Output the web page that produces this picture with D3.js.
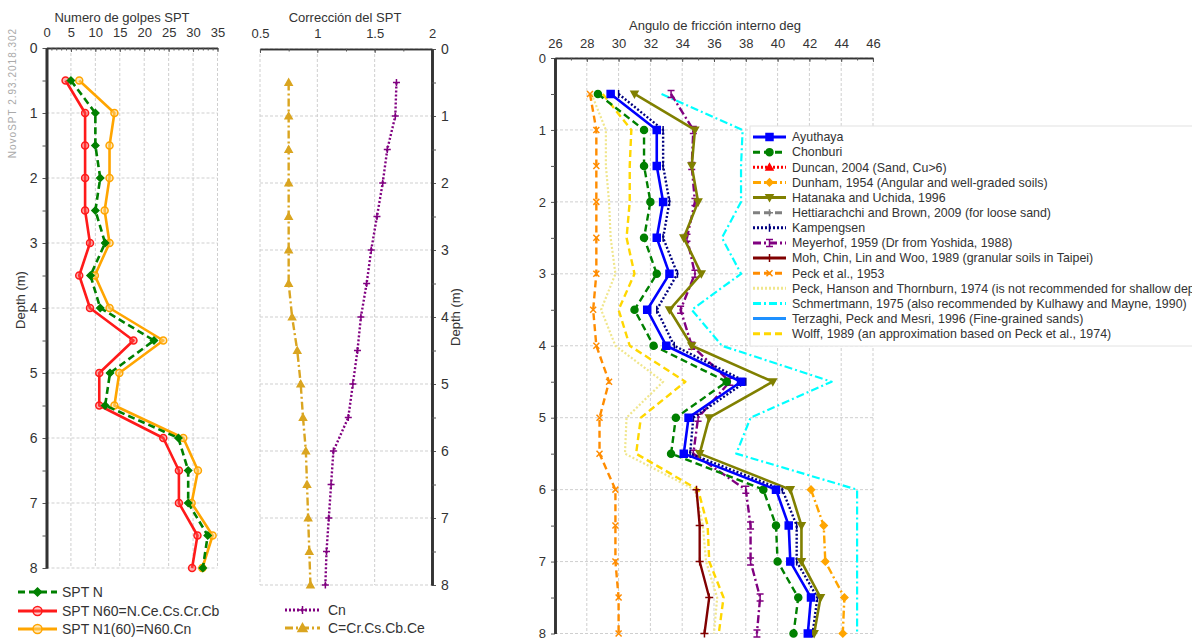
<!DOCTYPE html>
<html>
<head>
<meta charset="utf-8">
<script src="https://cdn.jsdelivr.net/npm/d3@7"></script>
<style>
  body { margin: 0; background: #fff; }
  svg { font-family: "Liberation Sans", Arial, sans-serif; }
</style>
</head>
<body>
<script>
// sizes
var w = 1192;
var h = 639;

// depths (m)
var depths = [0.5, 1, 1.5, 2, 2.5, 3, 3.5, 4, 4.5, 5, 5.5, 6, 6.5, 7, 7.5, 8];
var depthsDeep = [6, 6.5, 7, 7.5, 8];
var depthTicks = [0, 1, 2, 3, 4, 5, 6, 7, 8];

// panel 1: SPT blow counts
var sptTicks = [0, 5, 10, 15, 20, 25, 30, 35];
var sptN = [5, 10, 10, 11, 10, 12, 9, 11, 22, 13, 12, 27, 29, 29, 33, 32];
var sptN60 = [3.9, 7.9, 7.9, 7.9, 7.9, 8.9, 6.7, 8.9, 17.8, 10.8, 10.8, 23.9, 27.1, 27.1, 30.9, 29.8];
var sptN160 = [6.7, 13.9, 12.9, 12.9, 11.9, 12.9, 9.9, 12.9, 23.9, 14.9, 13.9, 28, 31, 29.7, 34, 31.9];

// panel 2: corrections
var corrTicks = [0.5, 1, 1.5, 2];
var cn = [1.69, 1.68, 1.61, 1.57, 1.52, 1.47, 1.43, 1.38, 1.35, 1.31, 1.27, 1.14, 1.12, 1.10, 1.08, 1.07];
var cProd = [0.75, 0.75, 0.75, 0.75, 0.75, 0.75, 0.75, 0.78, 0.825, 0.855, 0.875, 0.90, 0.91, 0.92, 0.93, 0.94];

// panel 3: friction angle (deg)
var phiTicks = [26, 28, 30, 32, 34, 36, 38, 40, 42, 44, 46];
var ayuthaya = [29.5, 32.4, 32.4, 32.8, 32.4, 33.2, 31.8, 33.0, 37.7, 34.4, 34.1, 39.9, 40.7, 40.8, 42.1, 41.9];
var chonburi = [28.7, 31.6, 31.6, 32.0, 31.6, 32.4, 31.0, 32.2, 36.8, 33.6, 33.3, 39.1, 39.9, 40.0, 41.3, 41.0];
var duncan = [];
var dunham = [42.1, 42.9, 43.0, 44.2, 44.1];
var hatanaka = [31.0, 34.8, 34.6, 35.0, 34.1, 35.2, 33.2, 34.6, 39.7, 35.7, 35.1, 40.8, 41.5, 41.5, 42.7, 42.3];
var hettiarachchi = [];
var kampengsen = [30.0, 32.8, 32.8, 33.2, 32.8, 33.7, 32.4, 33.5, 38.0, 34.7, 34.5, 40.3, 41.2, 41.2, 42.5, 42.2];
var meyerhof = [33.3, 34.7, 34.6, 34.8, 34.3, 34.8, 33.9, 34.6, 37.0, 35.0, 34.7, 38.0, 38.3, 38.3, 38.9, 38.7];
var moh = [34.9, 35.1, 35.1, 35.7, 35.4];
var peck1953 = [28.2, 28.6, 28.6, 28.6, 28.6, 28.6, 28.4, 28.6, 29.4, 28.8, 28.8, 29.8, 29.8, 29.8, 30.0, 30.0];
var peckHT = [28.3, 29.2, 29.2, 29.4, 29.5, 29.8, 28.9, 29.8, 32.8, 30.5, 30.4, 34.8, 35.3, 35.5, 36.2, 36.0];
var schmertmann = [32.7, 37.8, 37.7, 37.7, 36.5, 37.7, 34.6, 36.5, 43.4, 38.3, 37.4, 45, 45, 45, 45, 45];
var terzaghi = [];
var wolff = [29.0, 30.8, 30.7, 30.7, 30.5, 31.0, 30.0, 30.7, 34.2, 31.4, 31.1, 35.0, 35.6, 35.7, 36.6, 36.3];

var DASH = "7,4", DOT = "2,2", DASHDOT = "8,3,2,3";

var svg = d3.select("body")
            .append("svg")
            .attr("width", w)
            .attr("height", h);

// marker shapes as path strings
function markerPath(type, s) {
    if (type == "diamond") return "M0," + (-s) + "L" + s + ",0L0," + s + "L" + (-s) + ",0Z";
    if (type == "square") return "M" + (-s) + "," + (-s) + "H" + s + "V" + s + "H" + (-s) + "Z";
    if (type == "tri") return "M0," + (-s) + "L" + s + "," + (s * 0.8) + "L" + (-s) + "," + (s * 0.8) + "Z";
    if (type == "tridown") return "M0," + s + "L" + s + "," + (-s * 0.8) + "L" + (-s) + "," + (-s * 0.8) + "Z";
    if (type == "plus") return "M" + (-s) + ",0H" + s + "M0," + (-s) + "V" + s;
    if (type == "x") return "M" + (-s) + "," + (-s) + "L" + s + "," + s + "M" + s + "," + (-s) + "L" + (-s) + "," + s;
    if (type == "vtick") return "M0," + (-s) + "V" + s;
    if (type == "ibeam") return "M" + (-s) + "," + (-s) + "H" + s + "M0," + (-s) + "V" + s + "M" + (-s) + "," + s + "H" + s;
    if (type == "circle") return d3.symbol(d3.symbolCircle, Math.PI * s * s)();
    return null;
}

function drawMarker(g, type, x, y, s, color, fill) {
    var p = markerPath(type, s);
    if (!p) return;
    var filled = (type == "diamond" || type == "square" || type == "tri" || type == "tridown" || type == "circle");
    g.append("path")
        .attr("d", p)
        .attr("transform", "translate(" + x + "," + y + ")")
        .attr("fill", filled ? (fill || color) : "none")
        .attr("stroke", color)
        .attr("stroke-width", 1.5);
}

// grid + axes of one panel
function frame(x, y, xTicks, xMinor, yAxisSide, xPad, yFont) {
    var g = svg.append("g");
    var x0 = x.range()[0], x1 = x.range()[1];
    var y0 = y.range()[0], y1 = y.range()[1];

    g.selectAll(".vg").data(xTicks).enter().append("line")
        .attr("x1", function(d) { return x(d); })
        .attr("x2", function(d) { return x(d); })
        .attr("y1", y0).attr("y2", y1)
        .attr("stroke", "#cfcfcf").attr("stroke-dasharray", "3,2");

    g.selectAll(".hg").data(depthTicks).enter().append("line")
        .attr("x1", x0).attr("x2", x1)
        .attr("y1", function(d) { return y(d); })
        .attr("y2", function(d) { return y(d); })
        .attr("stroke", "#cfcfcf").attr("stroke-dasharray", "3,2");

    // top axis
    var top = g.append("g").attr("transform", "translate(0," + y0 + ")");
    top.call(d3.axisTop(x).tickValues(xTicks).tickSize(-4).tickSizeOuter(0).tickPadding(xPad).tickFormat(d3.format("~g")));
    top.append("g").call(d3.axisTop(x).tickValues(xMinor).tickSize(-2.5).tickSizeOuter(0).tickFormat(""));
    top.selectAll("text").attr("font-size", "13px").attr("fill", "#333").attr("font-family", null);
    top.selectAll("path.domain").attr("stroke", "#333").attr("stroke-width", 1.6);
    top.selectAll("line").attr("stroke", "#555");

    // depth axis
    var ax = yAxisSide == "left" ? d3.axisLeft(y) : d3.axisRight(y);
    var axMinor = yAxisSide == "left" ? d3.axisLeft(y) : d3.axisRight(y);
    var side = g.append("g").attr("transform", "translate(" + (yAxisSide == "left" ? x0 : x1) + ",0)");
    side.call(ax.tickValues(depthTicks).tickSize(4).tickSizeOuter(0).tickPadding(5).tickFormat(d3.format("d")));
    side.append("g").call(axMinor.tickValues(d3.range(0.5, 8, 1)).tickSize(4).tickSizeOuter(0).tickFormat(""));
    side.selectAll("text").attr("font-size", yFont).attr("fill", "#333").attr("font-family", null);
    side.selectAll("path.domain").attr("stroke", "#333").attr("stroke-width", 2.6);
    side.selectAll("line").attr("stroke", "#555");
    return g;
}

function series(g, x, y, ys, xs, color, width, dash, mark, ms, fill) {
    var pts = ys.map(function(d, i) { return [xs[i], d]; });
    var line = d3.line().x(function(d) { return x(d[0]); }).y(function(d) { return y(d[1]); });
    g.append("path").datum(pts)
        .attr("d", line)
        .attr("fill", "none")
        .attr("stroke", color)
        .attr("stroke-width", width)
        .attr("stroke-dasharray", dash)
        .attr("stroke-linejoin", "round");
    pts.forEach(function(p) { drawMarker(g, mark, x(p[0]), y(p[1]), ms, color, fill); });
}

function legendRow(g, x1, x2, yy, color, width, dash, mark, ms, fill, label, fs, tx) {
    g.append("line").attr("x1", x1).attr("x2", x2).attr("y1", yy).attr("y2", yy)
        .attr("stroke", color).attr("stroke-width", width).attr("stroke-dasharray", dash);
    drawMarker(g, mark, (x1 + x2) / 2, yy, ms, color, fill);
    g.append("text").attr("x", tx).attr("y", yy).attr("dy", "0.35em")
        .attr("font-size", fs).attr("fill", "#333").text(label);
}

// ---------- panel 1 ----------
var xA = d3.scaleLinear().domain([0, 35]).range([46.5, 217.5]);
var yA = d3.scaleLinear().domain([0, 8]).range([48, 568]);
var gA = frame(xA, yA, sptTicks, d3.range(0, 36, 1), "left", 11, "14px");

series(gA, xA, yA, depths, sptN60, "#ff1a1a", 2.6, null, "circle", 3.5, "rgba(255,80,80,0.45)");
series(gA, xA, yA, depths, sptN160, "#ffa500", 2.6, null, "circle", 3.5, "rgba(255,210,120,0.5)");
series(gA, xA, yA, depths, sptN, "#008000", 2.6, DASH, "diamond", 3.5);

svg.append("text").attr("x", 122).attr("y", 22).attr("text-anchor", "middle")
    .attr("font-size", "13px").attr("fill", "#333").text("Numero de golpes SPT");
svg.append("text").attr("transform", "translate(25,300) rotate(-90)").attr("text-anchor", "middle")
    .attr("font-size", "13px").attr("fill", "#333").text("Depth (m)");
svg.append("text").attr("transform", "translate(16,93) rotate(-90)").attr("text-anchor", "middle")
    .attr("font-size", "10px").attr("letter-spacing", "1px").attr("fill", "#aaa").text("NovoSPT 2.93.2018.302");

var legA = svg.append("g");
legendRow(legA, 18, 57, 592, "#008000", 3, DASH, "diamond", 4, null, "SPT N", "14px", 62);
legendRow(legA, 18, 57, 611, "#ff1a1a", 3, null, "circle", 4.5, "rgba(255,80,80,0.3)", "SPT N60=N.Ce.Cs.Cr.Cb", "14px", 62);
legendRow(legA, 18, 57, 629, "#ffa500", 3, null, "circle", 4.5, "rgba(255,210,120,0.5)", "SPT N1(60)=N60.Cn", "14px", 62);

// ---------- panel 2 ----------
var xB = d3.scaleLinear().domain([0.5, 2]).range([260, 432]);
var yB = d3.scaleLinear().domain([0, 8]).range([49, 585]);
var gB = frame(xB, yB, corrTicks, d3.range(0.5, 2.01, 0.25), "right", 11, "14px");

series(gB, xB, yB, depths, cn, "#800080", 2.4, DOT, "plus", 3.5);
series(gB, xB, yB, depths, cProd, "#daa520", 2.4, DASHDOT, "tri", 3.5);

svg.append("text").attr("x", 345).attr("y", 22).attr("text-anchor", "middle")
    .attr("font-size", "13px").attr("fill", "#333").text("Corrección del SPT");
svg.append("text").attr("transform", "translate(460,317) rotate(-90)").attr("text-anchor", "middle")
    .attr("font-size", "13px").attr("fill", "#333").text("Depth (m)");

var legB = svg.append("g");
legendRow(legB, 285, 320, 610, "#800080", 3, DOT, "plus", 4, null, "Cn", "14px", 328);
legendRow(legB, 285, 320, 628, "#daa520", 3, DASHDOT, "tri", 4.5, null, "C=Cr.Cs.Cb.Ce", "14px", 328);

// ---------- panel 3 ----------
var xC = d3.scaleLinear().domain([26, 46]).range([555, 873]);
var yC = d3.scaleLinear().domain([0, 8]).range([58, 633.5]);
var gC = frame(xC, yC, phiTicks, d3.range(26, 46.01, 1), "left", 10, "13px");

svg.append("text").attr("x", 715).attr("y", 30).attr("text-anchor", "middle")
    .attr("font-size", "13px").attr("fill", "#333").text("Angulo de fricción interno deg");

var phiSeries = [
    {name: "Ayuthaya", v: ayuthaya, d: depths, c: "#0000ff", w: 2.6, dash: null, m: "square", ms: 3.5},
    {name: "Chonburi", v: chonburi, d: depths, c: "#008000", w: 2.4, dash: DASH, m: "circle", ms: 3.5},
    {name: "Duncan, 2004 (Sand, Cu>6)", v: duncan, d: depths, c: "#ff0000", w: 2.4, dash: DOT, m: "tri", ms: 3.5},
    {name: "Dunham, 1954 (Angular and well-graded soils)", v: dunham, d: depthsDeep, c: "#ffa500", w: 2.4, dash: DASHDOT, m: "diamond", ms: 3.5},
    {name: "Hatanaka and Uchida, 1996", v: hatanaka, d: depths, c: "#808000", w: 2.6, dash: null, m: "tridown", ms: 3.5},
    {name: "Hettiarachchi and Brown, 2009 (for loose sand)", v: hettiarachchi, d: depths, c: "#808080", w: 2.4, dash: DASH, m: "plus", ms: 3.5},
    {name: "Kampengsen", v: kampengsen, d: depths, c: "#000080", w: 2.4, dash: DOT, m: "vtick", ms: 4},
    {name: "Meyerhof, 1959 (Dr from Yoshida, 1988)", v: meyerhof, d: depths, c: "#800080", w: 2.4, dash: DASHDOT, m: "ibeam", ms: 3.5},
    {name: "Moh, Chin, Lin and Woo, 1989 (granular soils in Taipei)", v: moh, d: depthsDeep, c: "#800000", w: 2.4, dash: null, m: "plus", ms: 4},
    {name: "Peck et al., 1953", v: peck1953, d: depths, c: "#ff8c00", w: 2.4, dash: DASH, m: "x", ms: 3},
    {name: "Peck, Hanson and Thornburn, 1974 (is not recommended for shallow depths)", v: peckHT, d: depths, c: "#f0e68c", w: 2.2, dash: DOT, m: null, ms: 0},
    {name: "Schmertmann, 1975 (also recommended by Kulhawy and Mayne, 1990)", v: schmertmann, d: depths, c: "#00ffff", w: 2.2, dash: DASHDOT, m: null, ms: 0},
    {name: "Terzaghi, Peck and Mesri, 1996 (Fine-grained sands)", v: terzaghi, d: depths, c: "#1e90ff", w: 2.6, dash: null, m: null, ms: 0},
    {name: "Wolff, 1989 (an approximation based on Peck et al., 1974)", v: wolff, d: depths, c: "#ffd700", w: 2.4, dash: DASH, m: null, ms: 0}
];

phiSeries.slice().reverse().forEach(function(s) {
    if (s.v.length) series(gC, xC, yC, s.d, s.v, s.c, s.w, s.dash, s.m, s.ms);
});

var legC = svg.append("g");
legC.append("rect").attr("x", 750).attr("y", 126).attr("width", 460).attr("height", 220)
    .attr("fill", "#fff").attr("stroke", "#e2e2e2");
phiSeries.forEach(function(s, i) {
    legendRow(legC, 753, 786, 137 + i * 15.13, s.c, 3, s.dash, s.m, s.ms, null, s.name, "12.4px", 792);
});
</script>
</body>
</html>
